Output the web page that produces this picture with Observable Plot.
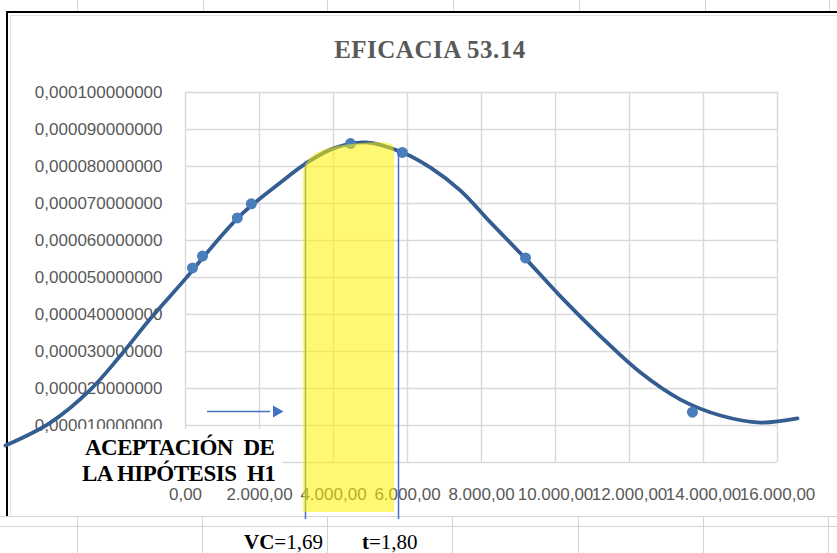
<!DOCTYPE html>
<html>
<head>
<meta charset="utf-8">
<script src="https://cdn.jsdelivr.net/npm/d3@7"></script>
<script src="https://cdn.jsdelivr.net/npm/@observablehq/plot@0.6"></script>
<style>
  body { margin: 0; background: #fff; }
  #page { position: relative; width: 837px; height: 553px; overflow: hidden; background: #fff; }
  .col { position: absolute; width: 1px; background: #d4d4d4; }
  .row { position: absolute; left: 0; width: 837px; height: 1px; background: #d4d4d4; }
  #frame { position: absolute; left: 6px; top: 11px; width: 860px; height: 503px;
           border-left: 2px solid #000; border-top: 2px solid #000; background: #fff; }
  #inner { position: absolute; left: 10px; top: 15px; width: 860px; height: 499px;
           border-left: 1px solid #e3e3e3; border-top: 1px solid #e3e3e3; }
  #chart { position: absolute; left: 0; top: 0; }
  #title { position: absolute; left: 230px; top: 37px; width: 400px; text-align: center;
           font: bold 25px/25px "Liberation Serif", serif; color: #595959; letter-spacing: 0.5px; }
  #notebox { position: absolute; left: 75px; top: 429px; width: 207px; height: 56px; background: #fff; }
  .note { position: absolute; font: bold 23px/23px "Liberation Serif", serif; color: #000;
          letter-spacing: -0.5px; white-space: pre; }
  .stat { position: absolute; font: 21px/21px "Liberation Serif", serif; color: #000; white-space: pre; }
</style>
</head>
<body>
<div id="page">
  <!-- worksheet cell lines around the embedded chart -->
  <div class="col" style="left:77px;top:0;height:12px"></div>
  <div class="col" style="left:203px;top:0;height:12px"></div>
  <div class="col" style="left:327px;top:0;height:12px"></div>
  <div class="col" style="left:453px;top:0;height:12px"></div>
  <div class="col" style="left:579px;top:0;height:12px"></div>
  <div class="col" style="left:705px;top:0;height:12px"></div>
  <div class="col" style="left:829px;top:0;height:12px"></div>
  <div class="row" style="top:516px"></div>
  <div class="row" style="top:526px"></div>
  <div class="col" style="left:77px;top:516px;height:37px"></div>
  <div class="col" style="left:202px;top:516px;height:37px"></div>
  <div class="col" style="left:327px;top:516px;height:37px"></div>
  <div class="col" style="left:452px;top:516px;height:37px"></div>
  <div class="col" style="left:578px;top:516px;height:37px"></div>
  <div class="col" style="left:703px;top:516px;height:37px"></div>
  <div class="col" style="left:828px;top:516px;height:37px"></div>
  <div id="frame"></div>
  <div id="inner"></div>
  <div id="chart"></div>
  <div id="title">EFICACIA 53.14</div>
  <div id="notebox"></div>
  <div class="note" style="left:85px;top:436px">ACEPTACIÓN  DE</div>
  <div class="note" style="left:82px;top:462px">LA HIPÓTESIS  H1</div>
  <div class="stat" style="left:244px;top:532px"><b>VC</b>=1,69</div>
  <div class="stat" style="left:362px;top:532px"><b>t</b>=1,80</div>
</div>
<script>
// Axis ticks
const xTicks = [0, 2000, 4000, 6000, 8000, 10000, 12000, 14000, 16000];
const yTicks = [0.00001, 0.00002, 0.00003, 0.00004, 0.00005, 0.00006, 0.00007, 0.00008, 0.00009, 0.0001];

// Observed values (markers)
const sampleX = [190, 460, 1400, 1780, 4460, 5860, 9190, 13700];
const sampleY = [0.0000526, 0.0000558, 0.0000661, 0.0000699, 0.0000862, 0.0000838, 0.0000553, 0.0000136];

// Smoothed density curve
const curveX = [-4865, -3649, -2568, -1757, -946, 54, 405, 1486, 2568, 3297, 4000, 4865, 5865,
                6622, 7432, 8243, 9189, 10135, 11216, 12297, 13378, 14459, 15541, 16541];
const curveY = [0.0000046, 0.0000108, 0.0000197, 0.0000289, 0.0000389, 0.0000503, 0.0000546, 0.0000668,
                0.0000757, 0.0000811, 0.0000849, 0.0000865, 0.0000838, 0.0000797, 0.0000735, 0.0000649,
                0.0000551, 0.0000449, 0.0000341, 0.0000243, 0.0000170, 0.0000127, 0.0000108, 0.0000119];

// Critical value (VC) and statistic (t) markers
const limitX = [3243, 5757];
const limitTop = [0.0000814, 0.0000843];
const limitBottom = -0.0000154;

// Acceptance band outline
const bandX = [3189, 3378, 3919, 4459, 5270, 5595, 5649];
const bandTop = [0.0000789, 0.0000822, 0.0000849, 0.0000859, 0.0000864, 0.0000859, 0.0000843];
const bandBottom = -0.0000135;

// Pointer arrow
const arrowX = [595, 2300];
const arrowHeadX = [2459];
const arrowY = 0.0000138;

const es = d3.formatLocale({decimal: ",", thousands: ".", grouping: [3], currency: ["", ""]});
const fmtX = es.format(",.2f");
const fmtY = es.format(".12f");

const samples = sampleX.map((x, i) => ({x, y: sampleY[i]}));
const curve = curveX.map((x, i) => ({x, y: curveY[i]}));
const limits = limitX.map((x, i) => ({x, y1: limitBottom, y2: limitTop[i]}));
const band = bandX.map((x, i) => ({x, y1: bandBottom, y2: bandTop[i]}));
const arrow = [{x1: arrowX[0], x2: arrowX[1], y: arrowY}];
const arrowHead = arrowHeadX.map(x => ({x, y: arrowY}));

const chart = Plot.plot({
  width: 837,
  height: 553,
  marginLeft: 185,
  marginRight: 60,
  marginTop: 92,
  marginBottom: 91,
  x: {domain: [0, 16000]},
  y: {domain: [0, 0.0001]},
  style: {background: "transparent", color: "#595959", fontFamily: "Liberation Sans, sans-serif"},
  marks: [
    Plot.ruleY([0, ...yTicks], {stroke: "#d9d9d9", strokeWidth: 1.4}),
    Plot.ruleX(xTicks, {stroke: "#d9d9d9", strokeWidth: 1.4}),
    Plot.axisX({ticks: xTicks, tickFormat: fmtX, tickSize: 0, tickPadding: 25, fontSize: 17, letterSpacing: 0.4}),
    Plot.axisY({ticks: yTicks, tickFormat: fmtY, tickSize: 0, tickPadding: 23, fontSize: 17, letterSpacing: 0.3}),
    Plot.line(curve, {x: "x", y: "y", curve: "catmull-rom", stroke: "#345d91", strokeWidth: 3.8}),
    Plot.dot(samples, {x: "x", y: "y", r: 5.5, fill: "#4a7dbb"}),
    Plot.ruleX(limits, {x: "x", y1: "y1", y2: "y2", stroke: "#4472c4", strokeWidth: 1.5}),
    Plot.ruleY(arrow, {x1: "x1", x2: "x2", y: "y", stroke: "#4472c4", strokeWidth: 1.5}),
    Plot.dot(arrowHead, {x: "x", y: "y", symbol: "triangle", rotate: 90, r: 4.5, fill: "#4472c4"}),
    Plot.areaY(band, {x: "x", y1: "y1", y2: "y2", curve: "monotone-x", fill: "#fff200", fillOpacity: 0.55})
  ]
});
document.getElementById("chart").appendChild(chart);
</script>
</body>
</html>
